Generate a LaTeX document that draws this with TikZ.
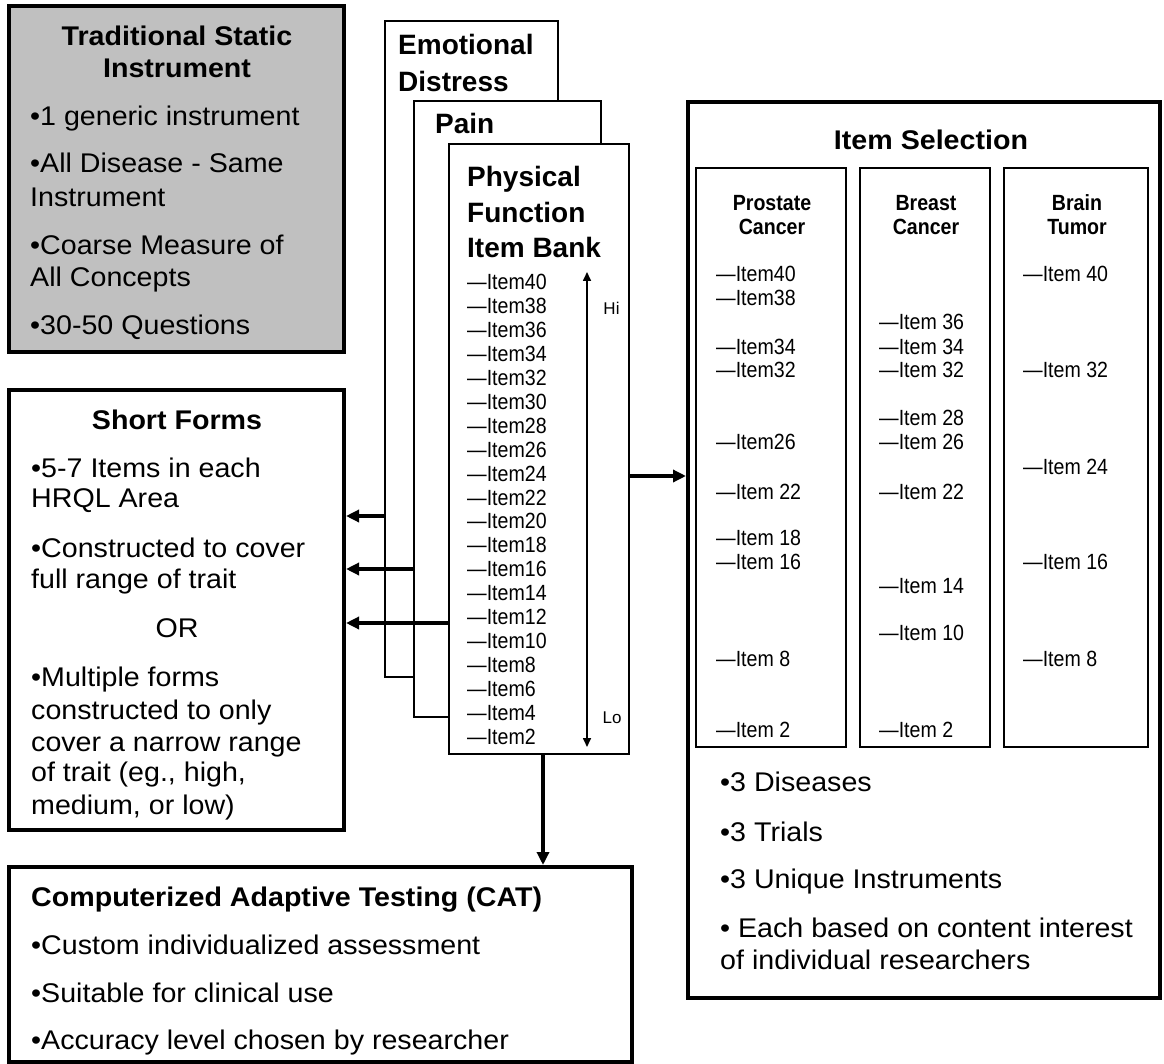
\documentclass[tikz,border=0pt]{standalone}
\usepackage{fontspec}
\setmainfont{Liberation Sans}[FakeStretch=1.06]
\newfontfamily\plainf{Liberation Sans}
\newfontfamily\narrowf{Liberation Sans}[FakeStretch=0.89]
\usetikzlibrary{arrows.meta}
\definecolor{boxgray}{HTML}{C0C0C0}
\tikzset{
  thickbox/.style={draw=black, line width=4pt, fill=white, inner sep=0pt},
  thinbox/.style={draw=black, line width=1.8pt, fill=white, inner sep=0pt},
  body/.style={inner sep=0pt, anchor=base west, font=\fontsize{27}{32}\selectfont},
  bodyb/.style={inner sep=0pt, anchor=base, font=\fontsize{27}{32}\selectfont\bfseries},
  stacktitle/.style={inner sep=0pt, anchor=base west, font=\plainf\fontsize{28}{36}\selectfont\bfseries},
  itemtxt/.style={inner sep=0pt, anchor=base west, font=\narrowf\fontsize{22}{24}\selectfont},
  colhead/.style={inner sep=0pt, anchor=base, font=\narrowf\fontsize{22}{24}\selectfont\bfseries},
  hilo/.style={inner sep=0pt, anchor=center, font=\plainf\fontsize{17}{20}\selectfont},
  bigarrow/.style={line width=4pt, -{Triangle[length=13pt,width=12pt]}},
  scalearrow/.style={line width=1.6pt, {Triangle[length=9pt,width=8pt]}-{Triangle[length=9pt,width=8pt]}}
}
\begin{document}
\begin{tikzpicture}[x=1pt, y=-1pt]
\useasboundingbox (0,0) rectangle (1164,1064);

% ---------- Traditional Static Instrument ----------
\node[thickbox, fill=boxgray, minimum width=335pt, minimum height=346pt] (trad) at (176.5,179) {};
\node[bodyb] (tradt1) at (177,45.5) {Traditional Static};
\node[bodyb] (tradt2) at (177,77.5) {Instrument};
\foreach \y/\t [count=\i] in {116/{•1 generic instrument}, 163/{•All Disease - Same}, 197/{Instrument}, 245/{•Coarse Measure of}, 277/{All Concepts}, 325/{•30-50 Questions}}
  \node[body] (trad\i) at (30,\y+9.5) {\t};

% ---------- Short Forms ----------
\node[thickbox, minimum width=335pt, minimum height=440pt] (sf) at (176.5,610) {};
\node[bodyb] (sft) at (177,429.5) {Short Forms};
\foreach \y/\t [count=\i] in {468/{•5-7 Items in each}, 498/{HRQL Area}, 548/{•Constructed to cover}, 579/{full range of trait}, 677/{•Multiple forms}, 710/{constructed to only}, 742/{cover a narrow range}, 772/{of trait (eg., high,}, 805/{medium, or low)}}
  \node[body] (sf\i) at (31,\y+9.5) {\t};
\node[body, anchor=base] (sfor) at (177,637.5) {OR};

% ---------- CAT ----------
\node[thickbox, minimum width=623pt, minimum height=195pt] (cat) at (320.5,964.5) {};
\node[body, font=\fontsize{27}{32}\selectfont\bfseries] (catt) at (31,906.5) {Computerized Adaptive Testing (CAT)};
\foreach \y/\t [count=\i] in {945/{•Custom individualized assessment}, 993/{•Suitable for clinical use}, 1040/{•Accuracy level chosen by researcher}}
  \node[body] (cat\i) at (31,\y+9.5) {\t};

% ---------- stacked item banks ----------
\node[thinbox, minimum width=173pt, minimum height=656pt] (emo) at (471.5,349) {};
\node[stacktitle] (emot1) at (398,55) {Emotional};
\node[stacktitle] (emot2) at (398,92) {Distress};

\node[thinbox, minimum width=187pt, minimum height=616pt] (pain) at (507.5,409) {};
\node[stacktitle] (paint) at (435,134) {Pain};

\node[thinbox, minimum width=180pt, minimum height=610pt] (phys) at (539,449) {};
\node[stacktitle] (physt1) at (467,187) {Physical};
\node[stacktitle] (physt2) at (467,223) {Function};
\node[stacktitle] (physt3) at (467,258) {Item Bank};
\foreach \n [count=\k from 0] in {40,38,36,34,32,30,28,26,24,22,20,18,16,14,12,10,8,6,4,2}
  \node[itemtxt] (bank\n) at (467,282+23.9*\k+7.9) {—Item\n};
\coordinate (hitop) at (587,272);
\coordinate (lobot) at (587,747);
\draw[scalearrow] (lobot) -- (hitop);
\node[hilo] (hi) at (611.5,308) {Hi};
\node[hilo] (lo) at (612,718) {Lo};

% ---------- Item Selection ----------
\node[thickbox, minimum width=472pt, minimum height=896pt] (sel) at (924,550) {};
\node[bodyb] (selt) at (931,149.5) {Item Selection};
\node[thinbox, minimum width=150pt, minimum height=579pt] (pros) at (771,457.5) {};
\node[thinbox, minimum width=130pt, minimum height=579pt] (brst) at (925,457.5) {};
\node[thinbox, minimum width=144pt, minimum height=579pt] (brain) at (1076,457.5) {};
\node[colhead] (prosh1) at (772,211) {Prostate};
\node[colhead] (prosh2) at (772,235) {Cancer};
\node[colhead] (brsth1) at (926,211) {Breast};
\node[colhead] (brsth2) at (926,235) {Cancer};
\node[colhead] (brainh1) at (1077,211) {Brain};
\node[colhead] (brainh2) at (1077,235) {Tumor};
\foreach \y/\t [count=\i] in {274/{Item40}, 298/{Item38}, 347/{Item34}, 370/{Item32}, 442/{Item26}, 492/{Item 22}, 538/{Item 18}, 562/{Item 16}, 659/{Item 8}, 730/{Item 2}}
  \node[itemtxt] (prosi\i) at (716,\y+7.9) {—\t};
\foreach \y/\t [count=\i] in {322/{Item 36}, 347/{Item 34}, 370/{Item 32}, 418/{Item 28}, 442/{Item 26}, 492/{Item 22}, 586/{Item 14}, 633/{Item 10}, 730/{Item 2}}
  \node[itemtxt] (brsti\i) at (879,\y+7.9) {—\t};
\foreach \y/\t [count=\i] in {274/{Item 40}, 370/{Item 32}, 467/{Item 24}, 562/{Item 16}, 659/{Item 8}}
  \node[itemtxt] (braini\i) at (1023,\y+7.9) {—\t};
\foreach \y/\t [count=\i] in {782/{•3 Diseases}, 832/{•3 Trials}, 879/{•3 Unique Instruments}, 928/{• Each based on content interest}, 960/{of individual researchers}}
  \node[body] (sel\i) at (720,\y+9.5) {\t};

% ---------- connectors ----------
\coordinate (a1) at (0,516);
\coordinate (a2) at (0,569);
\coordinate (a3) at (0,623);
\coordinate (r1) at (0,476);
\coordinate (d1) at (543,0);
\draw[bigarrow] (emo.west |- a1) -- (sf.east |- a1);
\draw[bigarrow] (pain.west |- a2) -- (sf.east |- a2);
\draw[bigarrow] (phys.west |- a3) -- (sf.east |- a3);
\draw[bigarrow] (phys.east |- r1) -- (sel.west |- r1);
\draw[bigarrow] (phys.south -| d1) -- (cat.north -| d1);
\end{tikzpicture}
\end{document}
